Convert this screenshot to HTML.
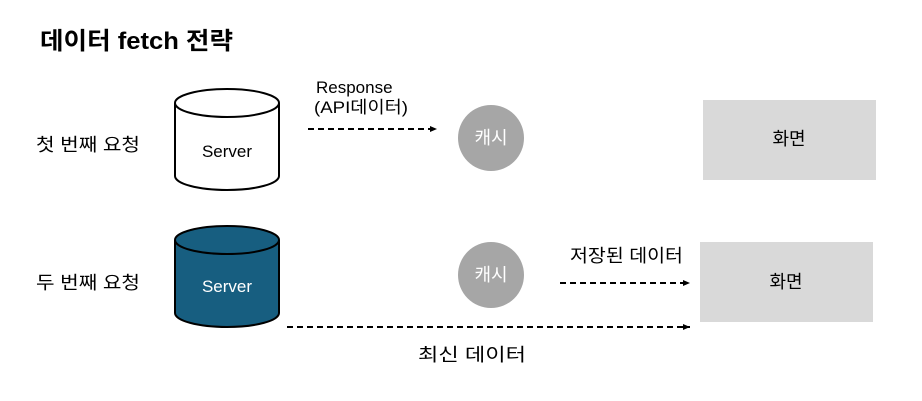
<!DOCTYPE html>
<html><head><meta charset="utf-8"><style>
body{margin:0;background:#fff;}
svg{display:block;font-family:"Liberation Sans","Noto Sans CJK KR",sans-serif;}
</style></head><body>
<svg width="922" height="401" viewBox="0 0 922 401">
<defs><marker id="a" markerWidth="8" markerHeight="8" refX="7" refY="4" orient="auto" markerUnits="userSpaceOnUse"><path d="M0,1 L7,4 L0,7z" fill="#000"/></marker></defs>
<text x="40" y="49" font-size="24" font-weight="bold" fill="#000" textLength="193" lengthAdjust="spacingAndGlyphs">데이터 fetch 전략</text>
<text x="36" y="151" font-size="18" textLength="104" lengthAdjust="spacingAndGlyphs">첫 번째 요청</text>
<text x="36" y="289" font-size="18" textLength="104" lengthAdjust="spacingAndGlyphs">두 번째 요청</text>
<!-- cylinder 1 -->
<path d="M175,103 L175,176 A52,14 0 0 0 279,176 L279,103" fill="#fff" stroke="#000" stroke-width="2"/>
<ellipse cx="227" cy="103" rx="52" ry="14" fill="#fff" stroke="#000" stroke-width="2"/>
<text x="227" y="157" font-size="17" text-anchor="middle">Server</text>
<!-- cylinder 2 -->
<path d="M175,240 L175,313 A52,14 0 0 0 279,313 L279,240" fill="#175e80" stroke="#000" stroke-width="2"/>
<ellipse cx="227" cy="240" rx="52" ry="14" fill="#175e80" stroke="#000" stroke-width="2"/>
<text x="227" y="292" font-size="17" text-anchor="middle" fill="#fff">Server</text>
<!-- caches -->
<circle cx="491" cy="138" r="33" fill="#a6a6a6"/>
<text x="491" y="144" font-size="18" text-anchor="middle" fill="#fff">캐시</text>
<circle cx="491" cy="275" r="33" fill="#a6a6a6"/>
<text x="491" y="281" font-size="18" text-anchor="middle" fill="#fff">캐시</text>
<!-- boxes -->
<rect x="703" y="100" width="173" height="80" fill="#d9d9d9"/>
<text x="789" y="145" font-size="18" text-anchor="middle">화면</text>
<rect x="700" y="242" width="173" height="80" fill="#d9d9d9"/>
<text x="786" y="288" font-size="18" text-anchor="middle">화면</text>
<!-- arrows -->
<g stroke="#000" stroke-width="2" stroke-dasharray="6,4" fill="none">
<line x1="308" y1="129" x2="437" y2="129" marker-end="url(#a)"/>
<line x1="560" y1="283" x2="690" y2="283" marker-end="url(#a)"/>
<line x1="287" y1="327" x2="690" y2="327" marker-end="url(#a)"/>
</g>
<text x="316" y="93" font-size="17">Response</text>
<text x="314" y="113" font-size="17" textLength="94" lengthAdjust="spacingAndGlyphs">(API데이터)</text>
<text x="570" y="262" font-size="18" textLength="113" lengthAdjust="spacingAndGlyphs">저장된 데이터</text>
<text x="418" y="361" font-size="18" textLength="108" lengthAdjust="spacingAndGlyphs">최신 데이터</text>
</svg>
</body></html>
